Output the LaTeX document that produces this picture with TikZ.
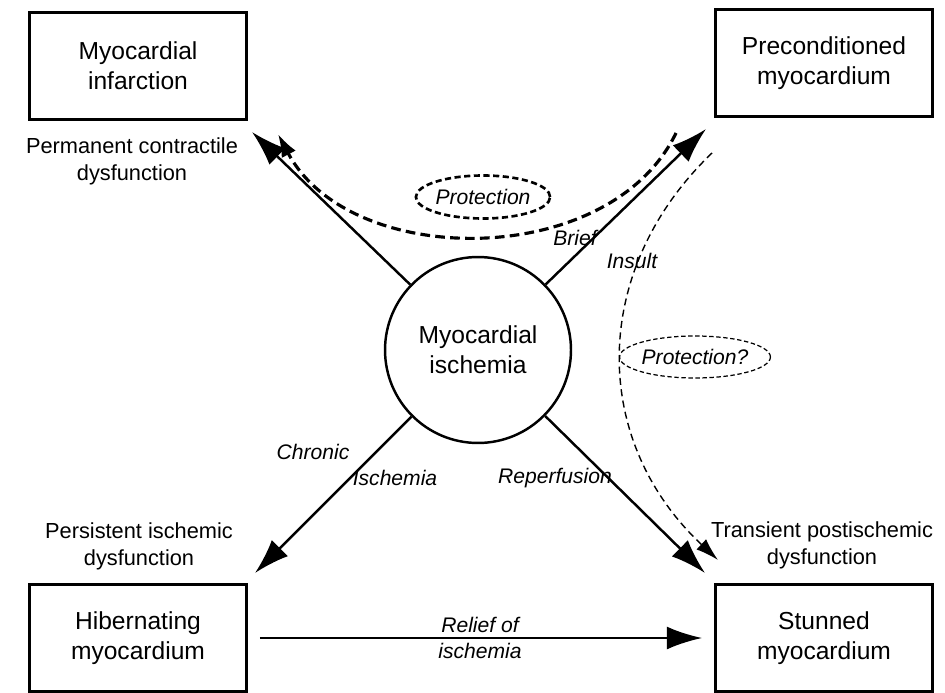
\documentclass[tikz,border=0pt]{standalone}
\usepackage{fontspec}
\setmainfont{Liberation Sans}
\usetikzlibrary{arrows.meta,shapes.geometric}
\begin{document}
\begin{tikzpicture}[x=0.02cm,y=-0.02cm,
  box/.style={draw,line width=1.6pt,minimum width=4.34cm,minimum height=2.14cm,align=center,inner sep=0pt,font=\fontsize{14}{17}\selectfont},
  sidetext/.style={align=center,inner sep=0pt,font=\fontsize{12.4}{15.3}\selectfont},
  lbl/.style={inner sep=0pt,font=\fontsize{12}{14.5}\selectfont\itshape},
  mainarr/.style={line width=1.4pt,-{Latex[length=20pt,width=13pt]}},
  thickdash/.style={line width=1.8pt,dash pattern=on 5.5pt off 3pt,-{Latex[length=13pt,width=9pt]}},
  thindash/.style={line width=0.8pt,dash pattern=on 4pt off 2.5pt,-{Latex[length=13pt,width=8pt]}},
]
\useasboundingbox (0,0) rectangle (945,692);
% boxes
\node[box] (mi) at (138,66) {Myocardial\\infarction};
\node[box] (pc) at (824,63) {Preconditioned\\myocardium};
\node[box] (hib) at (138,638) {Hibernating\\myocardium};
\node[box] (stun) at (824,638) {Stunned\\myocardium};
% circle
\node[circle,draw,line width=1.4pt,minimum size=3.72cm,align=center,inner sep=0pt,font=\fontsize{14}{17}\selectfont] (isch) at (478,350) {Myocardial\\ischemia};
% side texts
\node[sidetext] (t1) at (132,161) {Permanent contractile\\dysfunction};
\node[sidetext] (t2) at (139,546) {Persistent ischemic\\dysfunction};
\node[sidetext] (t3) at (822,545) {Transient postischemic\\dysfunction};
% arrow tip coordinates
\coordinate (tmi) at (252,132);
\coordinate (tpc) at (706,129);
\coordinate (thib) at (255,573);
\coordinate (tstun) at (705,573);
\draw[mainarr] (isch) -- (tmi);
\draw[mainarr] (isch) -- (tpc);
\draw[mainarr] (isch) -- (thib);
\draw[mainarr] (isch) -- (tstun);
\draw[mainarr,shorten <=0.24cm,shorten >=0.24cm] (hib.east) -- (stun.west);
% thick dashed protection curve
\coordinate (ds) at (676,133);
\coordinate (de) at (278,134);
\draw[thickdash] (ds) .. controls (610,270) and (350,270) .. (de);
\node[ellipse,draw,line width=1.5pt,dash pattern=on 3.5pt off 2pt,minimum width=2.6cm,minimum height=0.86cm,inner sep=0pt,lbl] (prot) at (483,197) {Protection};
% thin dashed curve
\coordinate (ts) at (712,153);
\coordinate (te) at (718,560);
\draw[thindash] (ts) .. controls (590,270) and (590,440) .. (te);
\node[ellipse,draw,line width=0.7pt,dash pattern=on 2.5pt off 1.5pt,minimum width=2.6cm,minimum height=0.84cm,inner sep=0pt,lbl] (prot2) at (695,357) {Protection?};
% labels
\node[lbl] (brief) at (575,238) {Brief};
\node[lbl] (insult) at (632,261) {Insult};
\node[lbl] (chronic) at (313,452) {Chronic};
\node[lbl] (ischl) at (395,478) {Ischemia};
\node[lbl] (rep) at (555,478) {Reperfusion};
\node[lbl,align=center,font=\fontsize{12}{15.3}\selectfont\itshape] (relief) at (480,638) {Relief of\\ischemia};
\end{tikzpicture}
\end{document}
